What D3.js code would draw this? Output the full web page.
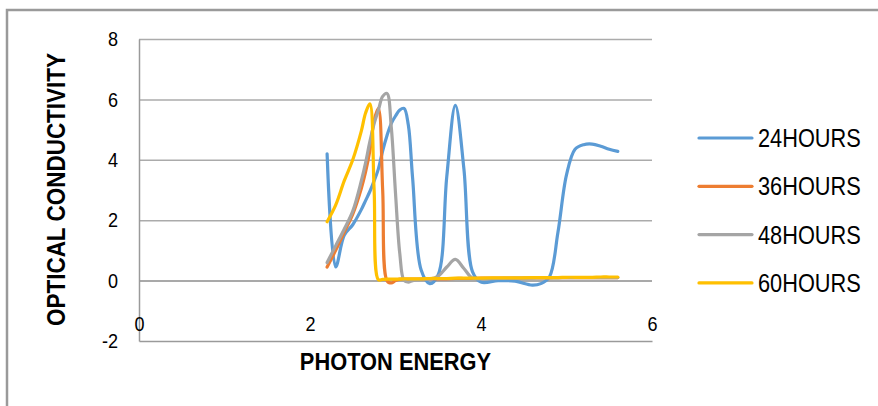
<!DOCTYPE html>
<html>
<head>
<meta charset="utf-8">
<script src="https://cdn.jsdelivr.net/npm/d3@7"></script>
<style>
  html, body { margin: 0; padding: 0; background: #fff; }
  svg { display: block; }
  text { font-family: "Liberation Sans", Arial, sans-serif; fill: #000; }
</style>
</head>
<body>
<svg id="chart" width="878" height="406"></svg>
<script>
// ---- data ----
const energy = [2.2, 2.3, 2.4, 2.5, 2.6, 2.65, 2.7, 2.75, 2.8, 2.85, 2.9, 2.95, 3.0, 3.05, 3.1, 3.15, 3.2, 3.3, 3.4, 3.5, 3.6, 3.7, 3.8, 3.9, 4.0, 4.2, 4.4, 4.6, 4.7, 4.8, 4.9, 5.0, 5.1, 5.2, 5.3, 5.4, 5.5, 5.6];
const hours24 = [4.2, 0.45, 1.5, 1.85, 2.35, 2.65, 2.95, 3.3, 3.7, 4.3, 4.8, 5.2, 5.45, 5.65, 5.7, 5.15, 3.4, 0.35, -0.1, 0.2, 3.45, 5.8, 3.7, 0.3, -0.05, 0.0, -0.02, -0.15, -0.1, 0.12, 1.6, 3.5, 4.35, 4.5, 4.52, 4.45, 4.35, 4.28];
const hours36 = [0.45, 1.0, 1.6, 2.2, 3.05, 3.6, 4.3, 5.3, 5.7, 3.0, 0.0, -0.08, 0.0, 0.05, 0.05, 0.05, 0.05, 0.05, 0.06, 0.06, 0.06, 0.07, 0.07, 0.07, 0.08, 0.08, 0.08, 0.09, 0.09, 0.09, 0.1, 0.1, 0.1, 0.1, 0.1, 0.1, 0.1, 0.1];
const hours48 = [0.6, 1.15, 1.7, 2.3, 3.3, 3.9, 4.6, 5.2, 5.65, 6.1, 6.2, 5.1, 2.9, 0.9, 0.0, -0.05, 0.0, 0.05, 0.05, 0.15, 0.45, 0.7, 0.4, 0.08, 0.06, 0.07, 0.08, 0.08, 0.09, 0.09, 0.09, 0.1, 0.1, 0.1, 0.1, 0.1, 0.1, 0.1];
const hours60 = [1.95, 2.5, 3.3, 4.0, 4.95, 5.55, 5.85, 3.0, 0.03, 0.04, 0.05, 0.05, 0.05, 0.05, 0.06, 0.06, 0.06, 0.06, 0.07, 0.07, 0.07, 0.08, 0.08, 0.08, 0.08, 0.09, 0.09, 0.1, 0.1, 0.1, 0.1, 0.11, 0.11, 0.11, 0.11, 0.12, 0.12, 0.12];
const seriesNames = ["24HOURS", "36HOURS", "48HOURS", "60HOURS"];
const seriesColors = ["#5B9BD5", "#ED7D31", "#A5A5A5", "#FFC000"];
const xTicks = [0, 2, 4, 6];
const yTicks = [-2, 0, 2, 4, 6, 8];
const xTitle = "PHOTON ENERGY";
const yTitle = "OPTICAL CONDUCTIVITY";

const seriesValues = [hours24, hours36, hours48, hours60];
const series = seriesNames.map((name, i) => ({
  name, color: seriesColors[i],
  points: energy.map((e, j) => [e, seriesValues[i][j]])
}));

// ---- layout ----
const svg = d3.select("#chart");
const x = d3.scaleLinear().domain([0, 6]).range([139, 652]);
const y = d3.scaleLinear().domain([-2, 8]).range([341, 39]);
const narrow = 0.86; // horizontal squeeze to imitate a narrow face

// outer chart border
svg.append("rect")
  .attr("x", 7).attr("y", 10).attr("width", 900).attr("height", 420)
  .attr("fill", "none").attr("stroke", "#9a9a9a").attr("stroke-width", 2.5);

// gridlines
const grid = svg.append("g")
  .attr("transform", `translate(${x(0)},0)`)
  .call(d3.axisLeft(y).tickValues(yTicks.filter(t => t > -2)).tickSize(-(x(6) - x(0))).tickFormat(""));
grid.select(".domain").remove();
grid.selectAll(".tick line").attr("stroke", "#ababab").attr("stroke-width", 1.5);
grid.selectAll(".tick").filter(d => d === 0).select("line").attr("stroke", "#8c8c8c");

// y axis
const yAxis = svg.append("g")
  .attr("transform", `translate(${x(0)},0)`)
  .call(d3.axisLeft(y).tickValues(yTicks).tickSize(0).tickFormat(d => String(d)));
yAxis.select(".domain").attr("stroke", "#9a9a9a").attr("stroke-width", 1.5);
yAxis.selectAll("text")
  .attr("font-size", 21).attr("font-family", "Liberation Sans, Arial, sans-serif")
  .attr("x", -21 / narrow)
  .attr("transform", `scale(${narrow},1)`);

// x axis (line at y=-2, labels above it)
const xAxis = svg.append("g")
  .attr("transform", `translate(0,${y(-2)})`)
  .call(d3.axisTop(x).tickValues(xTicks).tickSize(0).tickPadding(10).tickFormat(d => String(d)));
xAxis.select(".domain").attr("stroke", "#9a9a9a").attr("stroke-width", 1.5);
xAxis.selectAll("text")
  .attr("font-size", 21).attr("font-family", "Liberation Sans, Arial, sans-serif")
  .attr("transform", `scale(${narrow},1)`);

// series lines
const line = d3.line()
  .x(d => x(d[0])).y(d => y(d[1]))
  .curve(d3.curveCatmullRom.alpha(0.5));
svg.append("g").selectAll("path")
  .data(series).join("path")
  .attr("d", d => line(d.points))
  .attr("fill", "none")
  .attr("stroke", d => d.color)
  .attr("stroke-width", 3.2)
  .attr("stroke-linejoin", "round")
  .attr("stroke-linecap", "round");

// axis titles
svg.append("text")
  .attr("transform", `translate(${(x(0) + x(6)) / 2},370) scale(0.95,1)`)
  .attr("text-anchor", "middle")
  .attr("font-size", 23).attr("font-weight", "bold")
  .text(xTitle);
svg.append("text")
  .attr("transform", `translate(65,${(57 + 322) / 2}) rotate(-90) scale(0.9,1)`)
  .attr("text-anchor", "middle")
  .attr("font-size", 25).attr("font-weight", "bold")
  .text(yTitle);

// legend
const legend = svg.append("g").selectAll("g")
  .data(series).join("g")
  .attr("transform", (d, i) => `translate(699,${138 + i * 48.3})`);
legend.append("line")
  .attr("x1", 0).attr("x2", 53).attr("y1", 0).attr("y2", 0)
  .attr("stroke", d => d.color).attr("stroke-width", 3.2).attr("stroke-linecap", "round");
legend.append("text")
  .attr("transform", "translate(59,0) scale(0.87,1)")
  .attr("dy", "0.36em")
  .attr("font-size", 25)
  .text(d => d.name);
</script>
</body>
</html>
